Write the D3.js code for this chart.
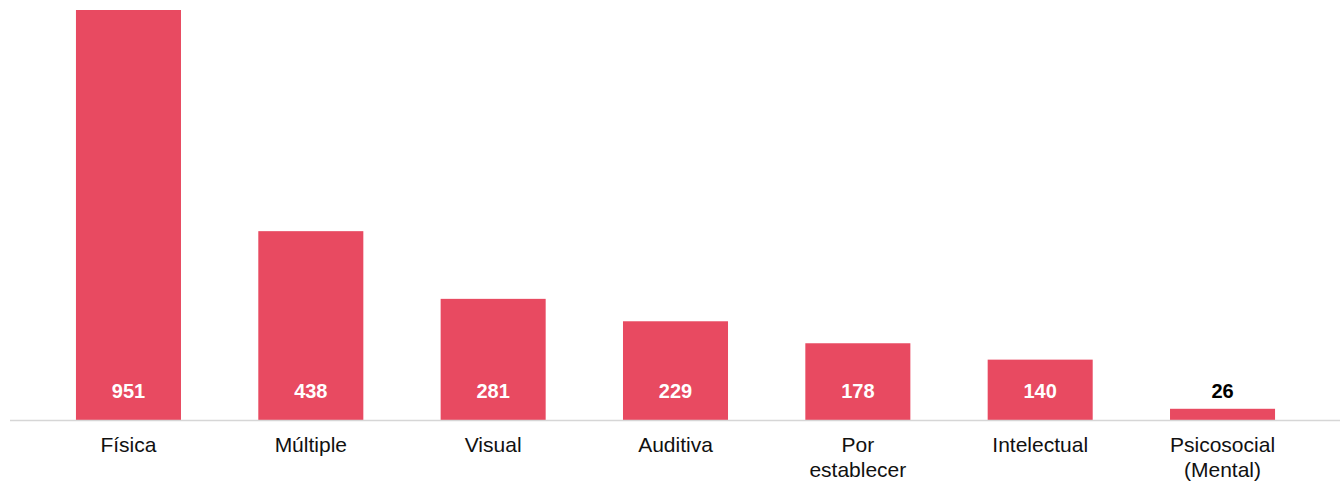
<!DOCTYPE html>
<html><head><meta charset="utf-8">
<script src="https://cdn.jsdelivr.net/npm/d3@7"></script>
<style>html,body{margin:0;padding:0;background:#fff;}svg{display:block;}</style>
</head><body>
<svg id="chart" width="1343" height="481"></svg>
<script>
const categories = [["Física"],["Múltiple"],["Visual"],["Auditiva"],["Por","establecer"],["Intelectual"],["Psicosocial","(Mental)"]];
const values = [951, 438, 281, 229, 178, 140, 26];

const W = 1343, H = 481;
const baseY = 420, topY = 10;
const svg = d3.select("#chart");
const font = "'Liberation Sans', Arial, Helvetica, sans-serif";

const x = d3.scaleBand().domain(d3.range(values.length)).range([37.3, 1313.7]).paddingInner(0.424).paddingOuter(0.212);
const y = d3.scaleLinear().domain([0, 951]).range([baseY, topY]);

svg.selectAll("rect.bar").data(values).join("rect")
  .attr("class","bar")
  .attr("x",(d,i)=>x(i)).attr("width",x.bandwidth())
  .attr("y",d=>y(d)).attr("height",d=>baseY-y(d))
  .attr("fill","#e84a61");

svg.append("line").attr("x1",10).attr("x2",1340).attr("y1",baseY+0.5).attr("y2",baseY+0.5)
  .attr("stroke","#d6d6d6").attr("stroke-width",1.6);

svg.selectAll("text.val").data(values).join("text")
  .attr("class","val")
  .attr("x",(d,i)=>x(i)+x.bandwidth()/2).attr("y",397.5)
  .attr("text-anchor","middle").attr("font-family",font).attr("font-weight","bold").attr("font-size",20)
  .attr("fill",d=> (baseY - y(d)) > 30 ? "#ffffff" : "#000000")
  .text(d=>d);

const lab = svg.selectAll("text.cat").data(categories).join("text")
  .attr("class","cat")
  .attr("text-anchor","middle").attr("font-family",font).attr("font-size",21).attr("fill","#111");
lab.each(function(lines,i){
  const t = d3.select(this);
  lines.forEach((l,j)=>{
    t.append("tspan").attr("x",x(i)+x.bandwidth()/2).attr("y",451.5+j*25).text(l);
  });
});
</script>
</body></html>
